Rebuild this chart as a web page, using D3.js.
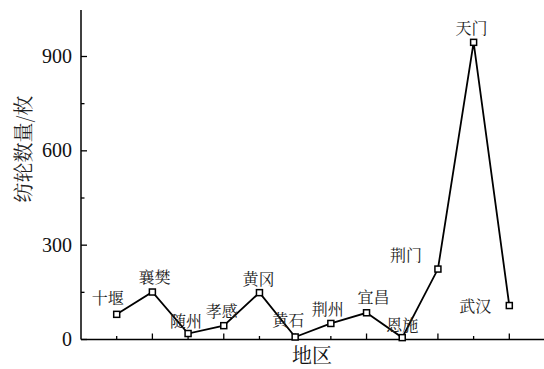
<!DOCTYPE html>
<html>
<head>
<meta charset="utf-8">
<script src="https://cdn.jsdelivr.net/npm/d3@7"></script>
<style>
  body { margin: 0; background: #fff; }
  svg { display: block; }
</style>
</head>
<body>
<svg id="chart" width="544" height="369"></svg>
<script>
// Spindle whorl counts by region
const regions = ["十堰", "襄樊", "随州", "孝感", "黄冈", "黄石", "荆州", "宜昌", "恩施", "荆门", "天门", "武汉"];
const counts = [80, 151, 19, 44, 149, 8, 51, 85, 6, 224, 945, 108];
const yTicks = [0, 300, 600, 900];
const yMinorTicks = [150, 450, 750];

// Label placement relative to each point (dx, dy)
const labelOffset = [
  [-9, -16], [2, -15], [-2, -12], [-2, -14], [-1, -13], [-7, -17],
  [-3, -14], [7, -15], [0, -12], [-32, -14], [-2, -14], [-34, 1]
];

const numFont = '"Liberation Serif", "Times New Roman", serif';
const cjkFont = '"Noto Serif CJK SC", "Noto Sans CJK SC", serif';

const svg = d3.select("#chart");
const plot = { left: 81, right: 545, top: 10, bottom: 339.5 };

const x = d3.scalePoint().domain(regions).range([plot.left, plot.right]).padding(1);
const y = d3.scaleLinear().domain([0, 900]).range([plot.bottom, 56.5]);

// Axis lines
svg.append("line").attr("x1", plot.left).attr("x2", plot.left).attr("y1", plot.top).attr("y2", plot.bottom)
  .attr("stroke", "#000").attr("stroke-width", 1.5);
svg.append("line").attr("x1", plot.left).attr("x2", plot.right).attr("y1", plot.bottom).attr("y2", plot.bottom)
  .attr("stroke", "#000").attr("stroke-width", 1.5);

// Y ticks (inward)
svg.selectAll(".ytick").data(yTicks).join("line")
  .attr("x1", plot.left).attr("x2", plot.left + 6)
  .attr("y1", d => y(d)).attr("y2", d => y(d))
  .attr("stroke", "#000").attr("stroke-width", 1.3);
svg.selectAll(".yminor").data(yMinorTicks).join("line")
  .attr("x1", plot.left).attr("x2", plot.left + 3.5)
  .attr("y1", d => y(d)).attr("y2", d => y(d))
  .attr("stroke", "#000").attr("stroke-width", 1.3);
svg.selectAll(".ylab").data(yTicks).join("text")
  .style("font-family", numFont)
  .attr("x", plot.left - 9).attr("y", d => y(d))
  .attr("dy", "0.33em").attr("text-anchor", "end")
  .attr("font-size", 20).attr("fill", "#111")
  .text(d => d);

// X ticks (inward, alternating length)
svg.selectAll(".xtick").data(regions).join("line")
  .attr("x1", d => x(d)).attr("x2", d => x(d))
  .attr("y1", plot.bottom).attr("y2", (d, i) => plot.bottom - (i % 2 ? 6 : 3.5))
  .attr("stroke", "#000").attr("stroke-width", 1.3);

// Axis titles
svg.append("text").style("font-family", cjkFont)
  .attr("x", 312).attr("y", 356).attr("dy", "0.35em")
  .attr("text-anchor", "middle").attr("font-size", 20)
  .attr("fill", "#111").text("地区");
svg.append("text").style("font-family", cjkFont)
  .attr("transform", "translate(24,149) rotate(-90)")
  .attr("dy", "0.35em").attr("text-anchor", "middle")
  .attr("font-size", 20).attr("fill", "#222")
  .text("纺轮数量/枚");

// Line
const line = d3.line().x((d, i) => x(regions[i])).y(d => y(d));
svg.append("path").datum(counts).attr("d", line)
  .attr("fill", "none").attr("stroke", "#000").attr("stroke-width", 1.8);

// Markers
svg.selectAll(".pt").data(counts).join("rect")
  .attr("x", (d, i) => x(regions[i]) - 3).attr("y", d => y(d) - 3)
  .attr("width", 6).attr("height", 6)
  .attr("fill", "#fff").attr("stroke", "#000").attr("stroke-width", 1.5);

// Point labels
svg.selectAll(".plab").data(counts).join("text")
  .style("font-family", cjkFont)
  .attr("x", (d, i) => x(regions[i]) + labelOffset[i][0])
  .attr("y", (d, i) => y(d) + labelOffset[i][1])
  .attr("dy", "0.35em").attr("text-anchor", "middle")
  .attr("font-size", 16).attr("fill", "#222")
  .text((d, i) => regions[i]);
</script>
</body>
</html>
